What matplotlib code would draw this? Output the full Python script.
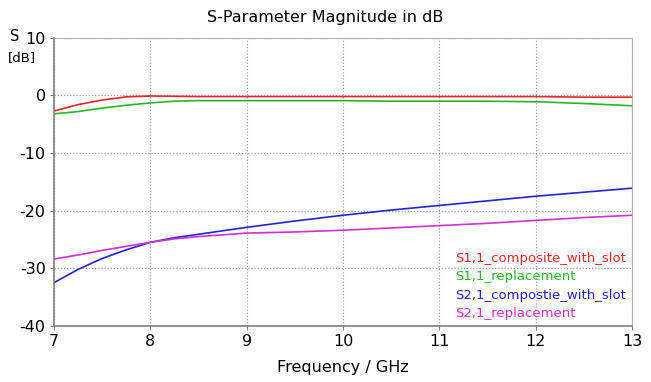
import numpy as np
import matplotlib
matplotlib.use("Agg")
import matplotlib.pyplot as plt

plt.rcParams["axes.unicode_minus"] = False

# frequency points (GHz)
freq = [7.0, 7.25, 7.5, 7.75, 8.0, 8.25, 8.5, 9.0, 9.5, 10.0, 10.5, 11.0, 11.5, 12.0, 12.5, 13.0]

s11_composite = [-2.7, -1.6, -0.8, -0.25, -0.1, -0.15, -0.2, -0.2, -0.2, -0.2, -0.2, -0.2, -0.2, -0.2, -0.3, -0.3]
s11_replacement = [-3.2, -2.8, -2.2, -1.7, -1.3, -1.0, -0.9, -0.9, -0.9, -0.9, -1.0, -1.0, -1.0, -1.1, -1.4, -1.8]
s21_composite = [-32.5, -30.2, -28.3, -26.8, -25.5, -24.7, -24.1, -22.9, -21.8, -20.8, -19.9, -19.1, -18.3, -17.5, -16.8, -16.1]
s21_replacement = [-28.4, -27.7, -26.9, -26.2, -25.5, -24.9, -24.5, -23.9, -23.7, -23.4, -23.0, -22.6, -22.2, -21.7, -21.2, -20.8]

labels = ["S1,1_composite_with_slot", "S1,1_replacement",
          "S2,1_compostie_with_slot", "S2,1_replacement"]
colors = ["#e8262b", "#27b62a", "#2323d6", "#d42fd4"]

xticks = [7, 8, 9, 10, 11, 12, 13]
yticks = [-40, -30, -20, -10, 0, 10]

fig = plt.figure(figsize=(6.51, 3.82), dpi=100)
ax = fig.add_axes([0.083, 0.147, 0.888, 0.754])

series = [s11_composite, s11_replacement, s21_composite, s21_replacement]
for ys, lab, c in zip(series, labels, colors):
    ax.plot(freq, ys, color=c, lw=1.2, label=lab)

ax.set_xlim(7, 13)
ax.set_ylim(-40, 10)
ax.set_xticks(xticks)
ax.set_yticks(yticks)
ax.grid(True, color="#a0a0a0", linestyle=(0, (1, 1.5)), lw=0.9)
ax.tick_params(labelsize=11.5, length=3, color="#808080", pad=3)

for side in ["left", "bottom"]:
    ax.spines[side].set_color("#808080")
    ax.spines[side].set_linewidth(1.2)
for side in ["top", "right"]:
    ax.spines[side].set_color("#b0b0b0")

ax.set_xlabel("Frequency / GHz", fontsize=11.5, labelpad=8)
fig.text(0.5, 0.953, "S-Parameter Magnitude in dB", ha="center", va="center", fontsize=11.5)
fig.text(0.022, 0.905, "S", ha="center", va="center", fontsize=10.5)
fig.text(0.034, 0.85, "[dB]", ha="center", va="center", fontsize=9.5)

leg = ax.legend(loc="lower right", frameon=False, handlelength=0, handletextpad=0,
                fontsize=9.5, labelspacing=0.4, borderaxespad=0.05)
for txt, c in zip(leg.get_texts(), colors):
    txt.set_color(c)
for h in leg.legend_handles:
    h.set_visible(False)

fig.savefig("out.png", dpi=100)
